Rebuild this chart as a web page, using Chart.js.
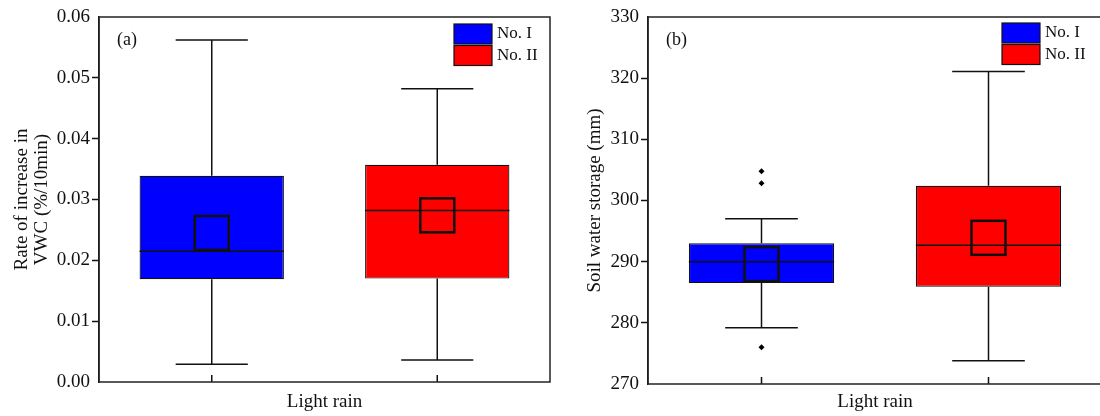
<!DOCTYPE html>
<html>
<head>
<meta charset="utf-8">
<script src="https://cdn.jsdelivr.net/npm/chart.js@4.4.1/dist/chart.umd.min.js"></script>
<style>
    html, body { margin: 0; padding: 0; background: #fff; overflow: hidden; width: 1100px; height: 416px; }
    #wrapA { position: absolute; left: 0; top: 0; width: 552px; height: 416px; }
    #wrapB { position: absolute; left: 550px; top: 0; width: 556px; height: 416px; }
</style>
</head>
<body>
<div id="wrapA"><canvas id="chartRate" width="552" height="416"></canvas></div>
<div id="wrapB"><canvas id="chartStorage" width="556" height="416"></canvas></div>
<script>
const categories = ["No. I", "No. II"];
const seriesColors = ["#0000ff", "#ff0000"];
const rainType = "Light rain";

// (a) rate of increase in VWC
const rateMin = [0.0029, 0.0036];
const rateQ1 = [0.0169, 0.0170];
const rateMedian = [0.0215, 0.0282];
const rateMean = [0.0245, 0.0274];
const rateQ3 = [0.0339, 0.0357];
const rateMax = [0.0562, 0.0482];
const rateTicks = [0, 0.06, 0.01];

// (b) soil water storage
const storageMin = [279.2, 273.8];
const storageQ1 = [286.5, 285.9];
const storageMedian = [290.0, 292.7];
const storageMean = [289.6, 293.9];
const storageQ3 = [293.0, 302.4];
const storageMax = [297.0, 321.1];
const storageOutliers = [[304.8, 302.8, 276.0], []];
const storageTicks = [270, 330, 10];

Chart.defaults.font.family = "'Liberation Serif', 'Times New Roman', serif";
Chart.defaults.color = "#111";

// whiskers, medians, mean squares, frame, legend and panel tag
const boxExtras = {
    id: "boxExtras",
    afterDatasetsDraw(chart, args, o) {
        const { ctx, chartArea: a, scales: { x, y } } = chart;
        ctx.save();
        ctx.strokeStyle = "#111";
        ctx.lineCap = "butt";

        chart.data.datasets.forEach((ds, i) => {
            if (ds.type === "line") return;
            const bar = chart.getDatasetMeta(i).data[i];
            const cx = bar.x, half = bar.width / 2, cap = bar.width / 4;
            const pMax = y.getPixelForValue(o.max[i]);
            const pMin = y.getPixelForValue(o.min[i]);
            const pQ3 = y.getPixelForValue(o.q3[i]);
            const pQ1 = y.getPixelForValue(o.q1[i]);

            ctx.lineWidth = 1.5;
            ctx.beginPath();
            ctx.moveTo(cx, pQ3); ctx.lineTo(cx, pMax);
            ctx.moveTo(cx - cap, pMax); ctx.lineTo(cx + cap, pMax);
            ctx.moveTo(cx, pQ1); ctx.lineTo(cx, pMin);
            ctx.moveTo(cx - cap, pMin); ctx.lineTo(cx + cap, pMin);
            const pMed = y.getPixelForValue(o.median[i]);
            ctx.moveTo(cx - half, pMed); ctx.lineTo(cx + half, pMed);
            ctx.stroke();

            const pMean = y.getPixelForValue(o.mean[i]);
            ctx.lineWidth = 2.5;
            ctx.strokeRect(cx - 17, pMean - 17, 34, 34);
        });

        // inner x ticks
        ctx.lineWidth = 1.5;
        ctx.beginPath();
        x.ticks.forEach((t, k) => {
            const px = x.getPixelForTick(k);
            ctx.moveTo(px, a.bottom);
            ctx.lineTo(px, a.bottom - 7);
        });
        ctx.stroke();

        // frame
        ctx.strokeStyle = "#222";
        ctx.lineWidth = 1.5;
        ctx.strokeRect(a.left, a.top, a.right - a.left, a.bottom - a.top);

        // panel tag
        ctx.fillStyle = "#111";
        ctx.font = "18px 'Liberation Serif', serif";
        ctx.textBaseline = "middle";
        ctx.textAlign = "left";
        ctx.fillText(o.tag, a.left + 18, a.top + 23);

        // legend
        ctx.font = "17px 'Liberation Serif', serif";
        let row = 0;
        chart.data.datasets.forEach((ds) => {
            if (ds.type === "line") return;
            const lx = a.right - o.legendRight, ly = a.top + o.legendTop + row * 21.5;
            ctx.fillStyle = ds.backgroundColor;
            ctx.fillRect(lx, ly, 38, 20);
            ctx.strokeStyle = "#111";
            ctx.lineWidth = 1.2;
            ctx.strokeRect(lx, ly, 38, 20);
            ctx.fillStyle = "#111";
            ctx.fillText(ds.label, lx + 43, ly + 10);
            row++;
        });
        ctx.restore();
    }
};

function boxConfig(p) {
    const datasets = categories.map((name, i) => ({
        label: name,
        data: categories.map((c, j) => j === i ? [p.q1[i], p.q3[i]] : null),
        backgroundColor: seriesColors[i],
        borderColor: "#111",
        borderWidth: 1.2,
        borderSkipped: false,
        barPercentage: 0.64,
        categoryPercentage: 1,
        skipNull: true,
        order: 2
    }));

    let outlierPoints = [];
    (p.outliers || []).forEach((list, i) => {
        list.forEach(v => outlierPoints.push({ x: categories[i], y: v }));
    });
    if (outlierPoints.length) {
        datasets.push({
            type: "line",
            label: "outliers",
            data: outlierPoints,
            showLine: false,
            pointStyle: "rectRot",
            pointRadius: 3,
            pointBackgroundColor: "#000",
            pointBorderWidth: 0,
            order: 1
        });
    }

    const [yMin, yMax, yStep] = p.ticks;

    return {
        type: "bar",
        data: { labels: categories, datasets },
        options: {
            responsive: false,
            animation: false,
            layout: { padding: { left: 0, top: 17, right: p.padRight, bottom: 0 } },
            scales: {
                x: {
                    ticks: { display: false },
                    grid: { display: false },
                    border: { display: false },
                    title: { display: true, text: rainType, font: { size: 19 }, padding: { top: 0, bottom: 3 } },
                    afterFit(s) { s.height = p.xHeight; }
                },
                y: {
                    min: yMin,
                    max: yMax,
                    ticks: {
                        stepSize: yStep,
                        padding: 2,
                        font: { size: 19 },
                        callback: v => p.decimals ? Number(v).toFixed(p.decimals) : v
                    },
                    grid: {
                        drawOnChartArea: false,
                        tickLength: 7,
                        tickWidth: 1.5,
                        tickColor: c => (c.tick && (c.tick.value === yMin || c.tick.value === yMax)) ? "rgba(0,0,0,0)" : "#111"
                    },
                    border: { display: true, color: "#111", width: 1.5 },
                    title: {
                        display: true,
                        text: p.yTitle,
                        font: { size: 19, lineHeight: 1.05 },
                        padding: { top: p.titlePad, bottom: 0 }
                    },
                    afterFit(s) { s.width = p.yWidth; }
                }
            },
            plugins: {
                legend: { display: false },
                tooltip: { enabled: false },
                boxExtras: {
                    tag: p.tag,
                    min: p.min, q1: p.q1, median: p.median, mean: p.mean, q3: p.q3, max: p.max,
                    legendRight: p.legendRight,
                    legendTop: p.legendTop
                }
            }
        },
        plugins: [boxExtras]
    };
}

new Chart(document.getElementById("chartRate"), boxConfig({
    tag: "(a)",
    min: rateMin, q1: rateQ1, median: rateMedian, mean: rateMean, q3: rateQ3, max: rateMax,
    ticks: rateTicks,
    decimals: 2,
    yTitle: ["Rate of increase in", "VWC (%/10min)"],
    titlePad: 12,
    yWidth: 99,
    xHeight: 34,
    padRight: 2,
    legendRight: 96,
    legendTop: 7
}));

new Chart(document.getElementById("chartStorage"), boxConfig({
    tag: "(b)",
    min: storageMin, q1: storageQ1, median: storageMedian, mean: storageMean, q3: storageQ3, max: storageMax,
    outliers: storageOutliers,
    ticks: storageTicks,
    decimals: 0,
    yTitle: "Soil water storage (mm)",
    titlePad: 35,
    yWidth: 98,
    xHeight: 32,
    padRight: 1,
    legendRight: 100,
    legendTop: 6
}));
</script>
</body>
</html>
